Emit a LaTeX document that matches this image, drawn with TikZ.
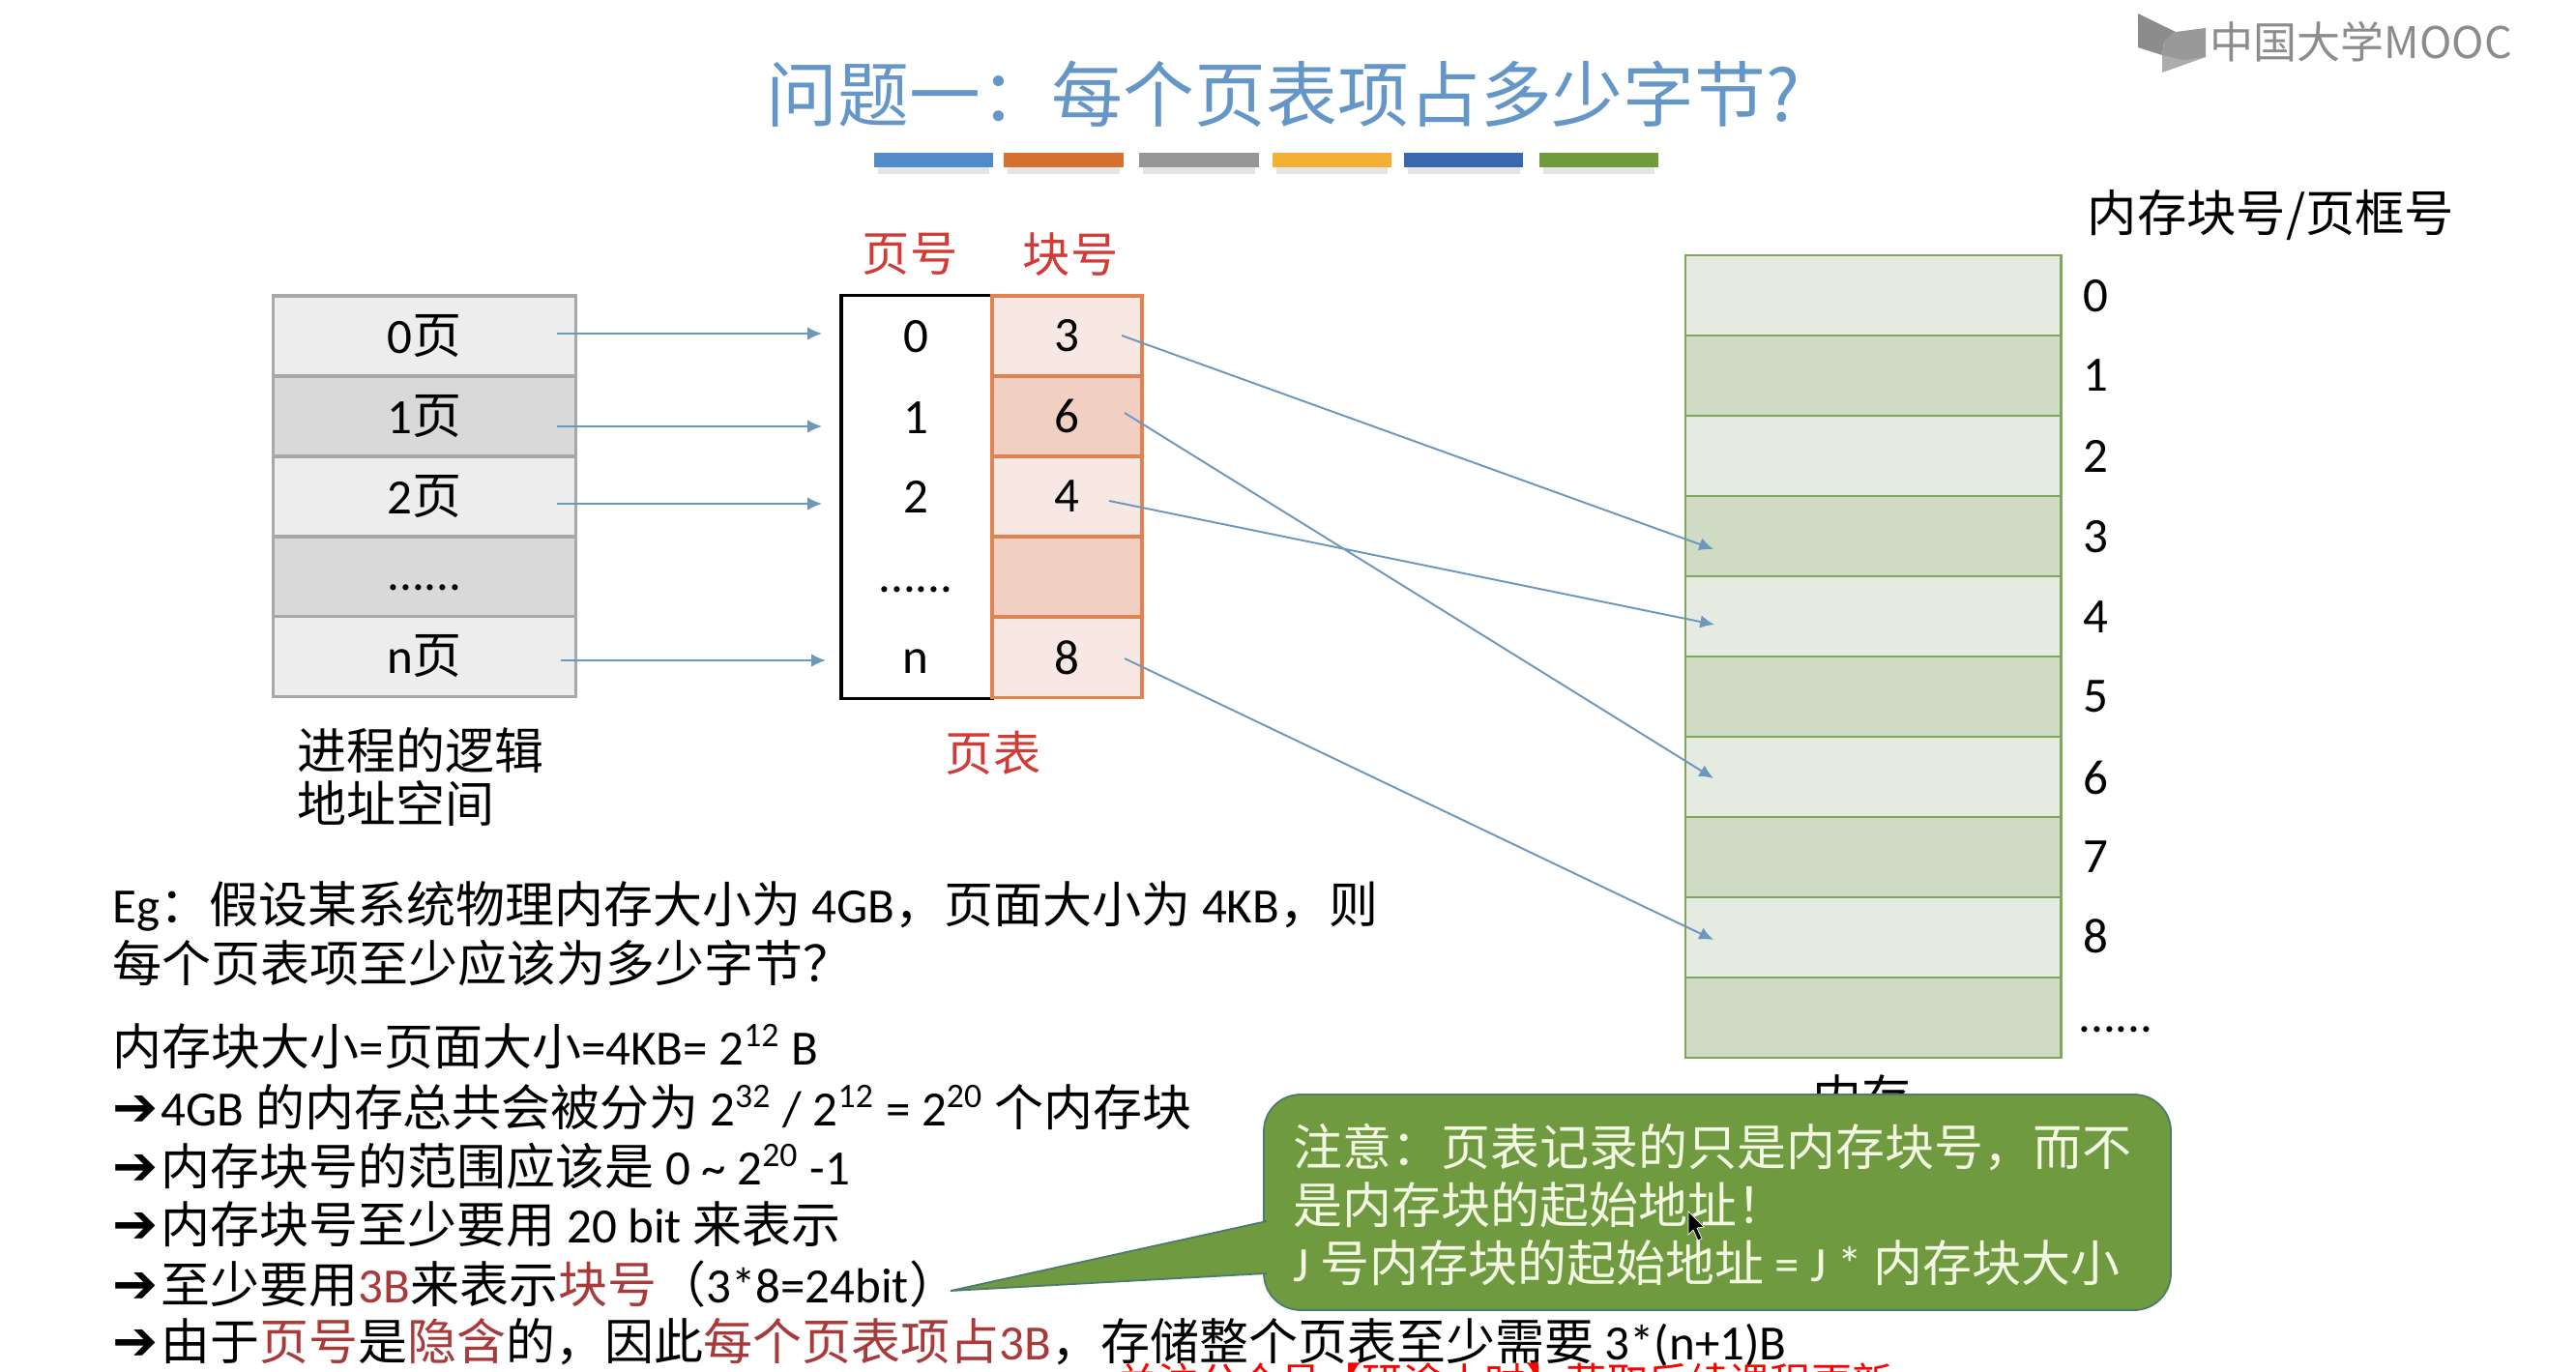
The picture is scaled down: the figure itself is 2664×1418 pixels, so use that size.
\documentclass[tikz,border=0pt]{standalone}
\usepackage{fontspec}
\setmainfont{Noto Sans CJK SC}
\newfontfamily\latfont{Carlito}
\newfontfamily\arrowfont{DejaVu Sans}
\usepackage{xcolor}
\usetikzlibrary{arrows.meta}

\definecolor{titleblue}{HTML}{6497C8}
\definecolor{linkblue}{HTML}{6C98BE}
\definecolor{labelred}{HTML}{D23A36}
\definecolor{darkred}{HTML}{A93A3A}
\definecolor{pagelight}{HTML}{EDEDED}
\definecolor{pagedark}{HTML}{D9D9D9}
\definecolor{pageline}{HTML}{A8A8A8}
\definecolor{blocklight}{HTML}{F8E8E3}
\definecolor{blockdark}{HTML}{F1CFC3}
\definecolor{blockline}{HTML}{E2824F}
\definecolor{memlight}{HTML}{E6EBE1}
\definecolor{memdark}{HTML}{D0DBC6}
\definecolor{memline}{HTML}{7FA65A}
\definecolor{notegreen}{HTML}{6F9A40}
\definecolor{noteline}{HTML}{4A7A70}
\definecolor{notetext}{HTML}{F2F8E2}
\definecolor{barblue}{HTML}{518CC8}
\definecolor{barorange}{HTML}{D5702F}
\definecolor{bargray}{HTML}{969696}
\definecolor{baryellow}{HTML}{F4B032}
\definecolor{barnavy}{HTML}{3B66B0}
\definecolor{bargreen}{HTML}{6F9B3C}

\newcommand{\lat}[1]{{\latfont #1}}
\newcommand{\arr}{{\arrowfont\fontsize{16}{17}\selectfont\symbol{"2794}}\hspace{0.03cm}}
\newcommand{\rd}[1]{\textcolor{darkred}{#1}}

\tikzset{
	bodytext/.style={anchor=base west,inner sep=0pt,font=\fontsize{14.5}{17}\selectfont},
	numtext/.style={inner sep=0pt,font=\latfont\fontsize{14.5}{17}\selectfont},
	redtext/.style={inner sep=0pt,text=labelred,font=\fontsize{14}{17}\selectfont},
	pagebox/.style={draw=pageline,line width=0.9pt,minimum width=3.12cm,minimum height=0.83cm,inner sep=0pt,outer sep=0pt,font=\fontsize{14.5}{17}\selectfont},
	blockbox/.style={draw=blockline,line width=0.9pt,minimum width=1.55cm,minimum height=0.83cm,inner sep=0pt,outer sep=0pt,font=\latfont\fontsize{14.5}{17}\selectfont},
	membox/.style={draw=memline,line width=0.8pt,minimum width=3.88cm,minimum height=0.83cm,inner sep=0pt,outer sep=0pt},
	link/.style={draw=linkblue,line width=0.55pt,-{Latex[length=4.2pt,width=3.8pt]}},
}

\begin{document}
\begin{tikzpicture}[x=0.01cm,y=-0.01cm]
	
	\useasboundingbox (0,0) rectangle (2664,1418);
	\fill[white] (0,0) rectangle (2664,1418);
	
	\node[inner sep=0pt,text=titleblue,font=\fontsize{21}{24}\selectfont] (title) at (1327,97) {问题一：每个页表项占多少字节?};
	
	\fill[gray!20] (908,173) rectangle (1023,180);
	\fill[gray!20] (1042,173) rectangle (1158,180);
	\fill[gray!20] (1182,173) rectangle (1298,180);
	\fill[gray!20] (1320,173) rectangle (1435,180);
	\fill[gray!20] (1456,173) rectangle (1572,180);
	\fill[gray!20] (1596,173) rectangle (1711,180);
	\fill[barblue] (904,158) rectangle (1027,173);
	\fill[barorange] (1038,158) rectangle (1162,173);
	\fill[bargray] (1178,158) rectangle (1302,173);
	\fill[baryellow] (1316,158) rectangle (1439,173);
	\fill[barnavy] (1452,158) rectangle (1575,173);
	\fill[bargreen] (1592,158) rectangle (1715,173);
	
	\fill[gray!90] (2211,14) -- (2250,33) -- (2238,43) -- (2236,57) -- (2211,49) -- cycle;
	\fill[gray!65] (2236,57) -- (2258,50) -- (2281,59) -- (2236,75) -- cycle;
	\fill[gray!80] (2281,29) -- (2250,33) -- (2238,43) -- (2236,57) -- (2258,62) -- (2281,59) -- cycle;
	\node[anchor=west,inner sep=0pt,text=gray!90,font=\fontsize{12.8}{14}\selectfont] (logo) at (2285,43) {中国大学MOOC};
	
	\node[pagebox,fill=pagelight] (p0) at (439,347.5) {\lat{0}页};
	\node[pagebox,fill=pagedark] (p1) at (439,430.5) {\lat{1}页};
	\node[pagebox,fill=pagelight] (p2) at (439,513.5) {\lat{2}页};
	\node[pagebox,fill=pagedark] (p3) at (439,596.5) {};
	\node[pagebox,fill=pagelight] (pn) at (439,679) {\lat{n}页};
	\node[numtext] (pdots) at (439,608) {......};
	\node[bodytext] (space1) at (307,795) {进程的逻辑};
	\node[bodytext] (space2) at (307,850) {地址空间};
	
	\node[redtext] (pagehead) at (941,263) {页号};
	\node[redtext] (blockhead) at (1107,263) {块号};
	\node[draw=black,line width=0.9pt,fill=white,minimum width=1.56cm,minimum height=4.16cm,inner sep=0pt,outer sep=0pt] (table) at (948,514) {};
	\node[numtext] (t0) at (947,348) {0};
	\node[numtext] (t1) at (947,432) {1};
	\node[numtext] (t2) at (947,514) {2};
	\node[numtext] (t3) at (947,610) {......};
	\node[numtext] (tn) at (947,684) {n};
	
	\node[blockbox,fill=blocklight] (b0) at (1103.5,347.5) {3};
	\node[blockbox,fill=blockdark] (b1) at (1103.5,430.5) {6};
	\node[blockbox,fill=blocklight] (b2) at (1103.5,513.5) {4};
	\node[blockbox,fill=blockdark] (b3) at (1103.5,596.5) {};
	\node[blockbox,fill=blocklight] (bn) at (1103.5,680) {8};
	\node[redtext] (tablename) at (1027,779) {页表};
	
	\node[membox,fill=memlight] (m0) at (1937,305.5) {};
	\node[membox,fill=memdark] (m1) at (1937,388.5) {};
	\node[membox,fill=memlight] (m2) at (1937,471.5) {};
	\node[membox,fill=memdark] (m3) at (1937,554.5) {};
	\node[membox,fill=memlight] (m4) at (1937,637.5) {};
	\node[membox,fill=memdark] (m5) at (1937,720.5) {};
	\node[membox,fill=memlight] (m6) at (1937,803.5) {};
	\node[membox,fill=memdark] (m7) at (1937,886.5) {};
	\node[membox,fill=memlight] (m8) at (1937,969.5) {};
	\node[membox,fill=memdark] (m9) at (1937,1052.5) {};
	
	\node[anchor=west,inner sep=0pt,font=\fontsize{14.6}{17}\selectfont] (memhead) at (2158,222) {内存块号/页框号};
	\node[numtext] (n0) at (2167,306) {0};
	\node[numtext] (n1) at (2167,388) {1};
	\node[numtext] (n2) at (2167,472) {2};
	\node[numtext] (n3) at (2167,555) {3};
	\node[numtext] (n4) at (2167,638) {4};
	\node[numtext] (n5) at (2167,720) {5};
	\node[numtext] (n6) at (2167,804) {6};
	\node[numtext] (n7) at (2167,886) {7};
	\node[numtext] (n8) at (2167,968) {8};
	\node[numtext] (n9) at (2188,1065) {......};
	\node[inner sep=0pt,font=\fontsize{14.5}{17}\selectfont] (memname) at (1925,1135) {内存};
	
	\coordinate (a0) at (576,345);
	\coordinate (a1) at (576,441);
	\coordinate (a2) at (576,521);
	\coordinate (an) at (580,683);
	\coordinate (c0) at (850,345);
	\coordinate (c1) at (850,441);
	\coordinate (c2) at (850,521);
	\coordinate (cn) at (854,683);
	\draw[link] (a0)--(c0);
	\draw[link] (a1)--(c1);
	\draw[link] (a2)--(c2);
	\draw[link] (an)--(cn);
	
	\coordinate (d0) at (1160,347);
	\coordinate (d1) at (1163,427);
	\coordinate (d2) at (1147,518);
	\coordinate (dn) at (1163,681);
	\coordinate (e0) at (1772,568);
	\coordinate (e1) at (1772,805);
	\coordinate (e2) at (1773,646);
	\coordinate (en) at (1772,972);
	\draw[link] (d0)--(e0);
	\draw[link] (d1)--(e1);
	\draw[link] (d2)--(e2);
	\draw[link] (dn)--(en);
	
	\node[bodytext] (q1) at (116,954) {\lat{Eg}：假设某系统物理内存大小为 \lat{4GB}，页面大小为 \lat{4KB}，则};
	\node[bodytext] (q2) at (116,1015) {每个页表项至少应该为多少字节？};
	\node[bodytext] (s1) at (116,1101) {内存块大小\lat{=}页面大小\lat{=4KB= 2\textsuperscript{12} B}};
	\node[bodytext] (s2) at (116,1164) {\arr\lat{4GB} 的内存总共会被分为 \lat{2\textsuperscript{32} / 2\textsuperscript{12} = 2\textsuperscript{20}} 个内存块};
	\node[bodytext] (s3) at (116,1225) {\arr 内存块号的范围应该是 \lat{0 \textasciitilde{} 2\textsuperscript{20} -1}};
	\node[bodytext] (s4) at (116,1285) {\arr 内存块号至少要用 \lat{20 bit} 来表示};
	\node[bodytext] (s5) at (116,1347) {\arr 至少要用\rd{\lat{3B}}来表示\rd{块号}（\lat{3*8=24bit}）};
	\node[bodytext] (s6) at (116,1406) {\arr 由于\rd{页号}是\rd{隐含}的，因此\rd{每个页表项占\lat{3B}}，存储整个页表至少需要 \lat{3*(n+1)B}};
	
	\begin{scope}
		\clip (0,0) rectangle (2664,1418);
		\node[anchor=base west,inner sep=0pt,text=red,font=\fontsize{12}{14}\selectfont] (watermark) at (1155,1445) {关注公众号【研途小时】获取后续课程更新};
	\end{scope}
	
	\draw[draw=noteline,line width=0.5pt,fill=notegreen,rounded corners=0.38cm] (1307,1132) rectangle (2245,1355);
	\draw[draw=noteline,line width=0.5pt,fill=notegreen] (1310,1263) -- (983,1335) -- (1310,1317);
	\node[bodytext,text=notetext] (note1) at (1337,1205) {注意：页表记录的只是内存块号，而不};
	\node[bodytext,text=notetext] (note2) at (1337,1265) {是内存块的起始地址！};
	\node[bodytext,text=notetext] (note3) at (1337,1325) {\lat{J} 号内存块的起始地址 \lat{= J *} 内存块大小};
	
	\fill[black,draw=white,line width=0.2pt] (1746,1253) -- (1746,1277) -- (1751,1272) -- (1756,1283) -- (1760,1281) -- (1755,1270) -- (1762,1269) -- cycle;
	
\end{tikzpicture}
\end{document}
